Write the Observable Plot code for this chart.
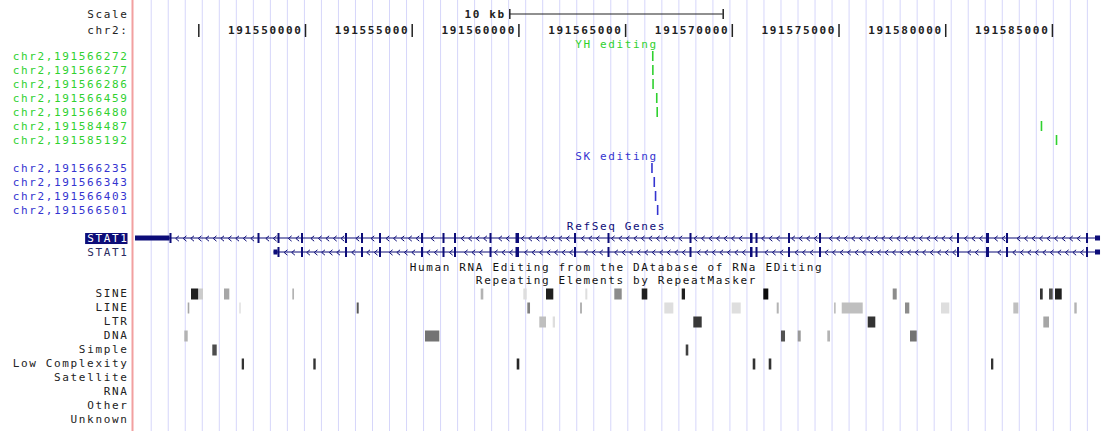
<!DOCTYPE html>
<html><head><meta charset="utf-8">
<script src="https://cdn.jsdelivr.net/npm/d3@7"></script>
<script src="https://cdn.jsdelivr.net/npm/@observablehq/plot@0.6"></script>
<style>html,body{margin:0;padding:0;background:#fff;}</style>
</head><body><div id="chart"></div>
<script>
// ---- data ----
const viewStart = 191541846, viewEnd = 191587300;
const rulerTicks = [191545000,191550000,191555000,191560000,191565000,191570000,191575000,191580000,191585000];
const scaleBarBp = 10000;
const scaleBarLabel = "10 kb";
const yhSites = [191566272,191566277,191566286,191566459,191566480,191584487,191585192];
const skSites = [191566235,191566343,191566403,191566501];
const trackTitles = ["YH editing","SK editing","RefSeq Genes","Human RNA Editing from the DAtabase of RNa EDiting","Repeating Elements by RepeatMasker"];
const geneNames = ["STAT1","STAT1"];
const geneCdsStart = [191543650,191548711];
const geneCdsEnd = [191586691,191586691];
const stat1aExons = [[191542034,191543744],[191547774,191547868],[191548711,191548805],[191549813,191549906],[191551874,191551968],[191552624,191552718],[191553468,191553561],[191555436,191555529],[191556443,191556537],[191556982,191557076],[191558646,191558739],[191559864,191560028],[191562605,191562699],[191564175,191564269],[191568018,191568111],[191570853,191570970],[191571110,191571204],[191572633,191572727],[191574086,191574180],[191580553,191580646],[191581912,191582052],[191582849,191582943],[191586598,191586691],[191587019,191587254]];
const stat1bExons = [[191548524,191548805],[191549813,191549906],[191551874,191551968],[191552624,191552718],[191553468,191553561],[191555436,191555529],[191556443,191556537],[191556982,191557076],[191558646,191558739],[191559864,191560028],[191562605,191562699],[191564175,191564269],[191568018,191568111],[191570853,191570970],[191571110,191571204],[191572633,191572727],[191574086,191574180],[191580553,191580646],[191581912,191582052],[191582849,191582943],[191586598,191586691],[191587019,191587254]];
const repeatClasses = ["SINE","LINE","LTR","DNA","Simple","Low Complexity","Satellite","RNA","Other","Unknown"];
// [start, end, shade 0..1]
const sineRepeats = [[191544658,191545000,0.88],[191545033,191545220,0.2],[191546204,191546453,0.35],[191549405,191549485,0.3],[191558233,191558355,0.3],[191560230,191560389,0.13],[191561293,191561635,0.88],[191563135,191563229,0.13],[191564494,191564841,0.45],[191565778,191566040,0.88],[191567652,191567807,0.88],[191571476,191571710,0.95],[191577540,191577727,0.45],[191584442,191584569,0.8],[191584864,191585037,0.7],[191585145,191585459,0.88]];
const lineRepeats = [[191544503,191544578,0.35],[191546921,191546987,0.13],[191552423,191552516,0.65],[191560417,191560544,0.5],[191562887,191562980,0.3],[191566837,191567259,0.13],[191569995,191570417,0.13],[191572104,191572198,0.3],[191574789,191574869,0.25],[191575150,191576134,0.25],[191578116,191578317,0.45],[191579803,191580192,0.13],[191583191,191583425,0.25],[191586049,191586162,0.3]];
const ltrRepeats = [[191560979,191561293,0.25],[191561607,191561715,0.13],[191568196,191568589,0.78],[191576368,191576724,0.8],[191584597,191584864,0.35]];
const dnaRepeats = [[191544344,191544503,0.3],[191555623,191556293,0.55],[191572305,191572493,0.68],[191573088,191573229,0.4],[191574475,191574602,0.3],[191578350,191578664,0.55]];
const simpleRepeats = [[191545656,191545862,0.7],[191567840,191567961,0.75]];
const lowComplexityRepeats = [[191547034,191547142,0.8],[191550389,191550501,0.8],[191559920,191560042,0.85],[191570979,191571101,0.8],[191571729,191571851,0.8],[191582146,191582254,0.8]];
const guideStart = 191542770, guideStep = 797.6;

// ---- derived tables ----
const yhLabels = yhSites.map(p => "chr2," + p);
const skLabels = skSites.map(p => "chr2," + p);
const geneRows = ["STAT1#1","STAT1#2"];
const rows = ["Scale","chr2:",trackTitles[0],...yhLabels,trackTitles[1],...skLabels,trackTitles[2],...geneRows,trackTitles[3],trackTitles[4],...repeatClasses];

const isoforms = [stat1aExons, stat1bExons];
const genes = isoforms.map((ex, i) => ({row: geneRows[i], start: ex[0][0], end: ex[ex.length-1][1]}));
const exonParts = [];
isoforms.forEach((ex, i) => {
  const cs = geneCdsStart[i], ce = geneCdsEnd[i];
  for (const [s, e] of ex) {
    const a = Math.max(s, cs), b = Math.min(e, ce);
    if (a < b) exonParts.push({row: geneRows[i], start: a, end: b, kind: "cds"});
    if (s < Math.min(e, cs)) exonParts.push({row: geneRows[i], start: s, end: Math.min(e, cs), kind: "utr"});
    if (Math.max(s, ce) < e) exonParts.push({row: geneRows[i], start: Math.max(s, ce), end: e, kind: "utr"});
  }
});
const chevrons = [];
isoforms.forEach((ex, i) => {
  const g = genes[i];
  for (const p of d3.range(g.start + 200, g.end, 352)) {
    if (ex.some(([s, e]) => p > s - 130 && p < e + 130)) continue;
    chevrons.push({row: geneRows[i], pos: p});
  }
});
const repeatSets = [sineRepeats, lineRepeats, ltrRepeats, dnaRepeats, simpleRepeats, lowComplexityRepeats];
const repeats = repeatSets.flatMap((set, i) => set.map(([s, e, v]) => ({cls: repeatClasses[i], start: s, end: e, shade: v})));
const center = (viewStart + viewEnd) / 2;
const scaleBar = [{a: center - scaleBarBp / 2, b: center + scaleBarBp / 2}];

const navy = "#0c0c78", green = "#2fd12f", blue = "#3434d0";
const chevronSymbol = {draw(ctx, size) { const r = Math.sqrt(size) / 2; ctx.moveTo(r * 0.6, -r); ctx.lineTo(-r * 0.6, 0); ctx.lineTo(r * 0.6, r); }};
const leftLabel = (data, opts) => Plot.text(data, {x: () => viewStart, textAnchor: "end", dx: -3, ...opts});

const chart = Plot.plot({
  width: 1101, height: 431,
  marginLeft: 131, marginRight: 0, marginTop: 0, marginBottom: 0,
  x: {domain: [viewStart, viewEnd], axis: null},
  y: {type: "band", domain: rows, range: [7, 427], padding: 0, axis: null},
  color: {type: "linear", domain: [0, 1], range: ["#ffffff", "#000000"]},
  style: {fontFamily: "'DejaVu Sans Mono', monospace", fontSize: "11px", letterSpacing: "1.65px", background: "#fff", color: "#000"},
  marks: [
    Plot.ruleX(d3.range(guideStart, viewEnd, guideStep), {stroke: "#d6d6fa", strokeWidth: 1}),
    Plot.ruleX([viewStart], {stroke: "#f2a0a0", strokeWidth: 2, dx: 1}),
    // ruler
    Plot.barX(scaleBar, {x1: "a", x2: "b", y: () => "Scale", fill: "#222", insetTop: 6.5, insetBottom: 6.5}),
    Plot.tickX(scaleBar.flatMap(d => [d.a, d.b]), {x: d => d, y: () => "Scale", stroke: "#222", strokeWidth: 1.5, insetTop: 2, insetBottom: 2}),
    Plot.text([scaleBarLabel], {x: scaleBar[0].a, y: () => "Scale", text: d => d, textAnchor: "end", dx: -4, fontWeight: "bold", fill: "#222"}),
    Plot.tickX(rulerTicks, {x: d => d, y: () => "chr2:", stroke: "#222", strokeWidth: 1.5, insetTop: 3, insetBottom: -2}),
    Plot.text(rulerTicks.filter(t => t >= 191550000), {x: d => d, y: () => "chr2:", text: d => String(d), textAnchor: "end", dx: -3, dy: 2, fontWeight: "bold", fill: "#222"}),
    leftLabel(["Scale"], {y: d => d, text: d => d, fill: "#222"}),
    leftLabel(["chr2:"], {y: d => d, text: d => d, fill: "#222", dy: 2}),
    // editing tracks
    Plot.text([trackTitles[0]], {y: d => d, text: d => d, fill: green, dy: 1.5}),
    leftLabel(yhLabels, {y: d => d, text: d => d, fill: green}),
    Plot.tickX(yhSites, {x: d => d, y: d => "chr2," + d, stroke: green, strokeWidth: 1.6, insetTop: 2, insetBottom: 2}),
    Plot.text([trackTitles[1]], {y: d => d, text: d => d, fill: blue, dy: 1.5}),
    leftLabel(skLabels, {y: d => d, text: d => d, fill: blue}),
    Plot.tickX(skSites, {x: d => d, y: d => "chr2," + d, stroke: blue, strokeWidth: 1.6, insetTop: 2, insetBottom: 2}),
    // genes
    Plot.text([trackTitles[2]], {y: d => d, text: d => d, fill: navy, dy: 1.5}),
    leftLabel([geneRows[0]], {y: d => d, text: () => geneNames[0], fill: "white"}),
    leftLabel([geneRows[1]], {y: d => d, text: () => geneNames[1], fill: "#2a2a60"}),
    Plot.barX(genes, {x1: "start", x2: "end", y: "row", fill: navy, insetTop: 6.5, insetBottom: 6.5}),
    Plot.dot(chevrons, {x: "pos", y: "row", symbol: chevronSymbol, r: 3, stroke: navy, strokeWidth: 1, fill: "none"}),
    Plot.barX(exonParts.filter(d => d.kind === "utr"), {x1: "start", x2: "end", y: "row", fill: navy, insetTop: 4.5, insetBottom: 4.5}),
    Plot.barX(exonParts.filter(d => d.kind === "cds"), {x1: "start", x2: "end", y: "row", fill: navy, insetTop: 2, insetBottom: 2}),
    // repeats
    Plot.text([trackTitles[3]], {y: d => d, text: d => d, fill: "#111", dy: 1}),
    Plot.text([trackTitles[4]], {y: d => d, text: d => d, fill: "#111"}),
    leftLabel(repeatClasses, {y: d => d, text: d => d, fill: "#222", dy: -1}),
    Plot.barX(repeats, {x1: "start", x2: "end", y: "cls", fill: "shade", insetTop: 1.5, insetBottom: 1.5})
  ]
});
document.getElementById("chart").appendChild(chart);
// highlight box behind the selected (first) gene label
const geneLabelNodes = d3.select(chart).selectAll("text").filter(function() { return this.textContent === geneNames[0]; }).nodes();
if (geneLabelNodes.length) {
  const t = geneLabelNodes[0];
  const b = t.getBBox();
  const r = document.createElementNS("http://www.w3.org/2000/svg", "rect");
  r.setAttribute("x", b.x - 2);
  r.setAttribute("y", b.y + 1);
  r.setAttribute("width", b.width + 1);
  r.setAttribute("height", b.height - 2);
  r.setAttribute("fill", navy);
  const tr = t.getAttribute("transform");
  if (tr) r.setAttribute("transform", tr);
  if (t.getAttribute("x") != null) { /* x/y attributes already in local coords, bbox accounts for them */ }
  t.parentNode.insertBefore(r, t);
}
</script>
</body></html>
